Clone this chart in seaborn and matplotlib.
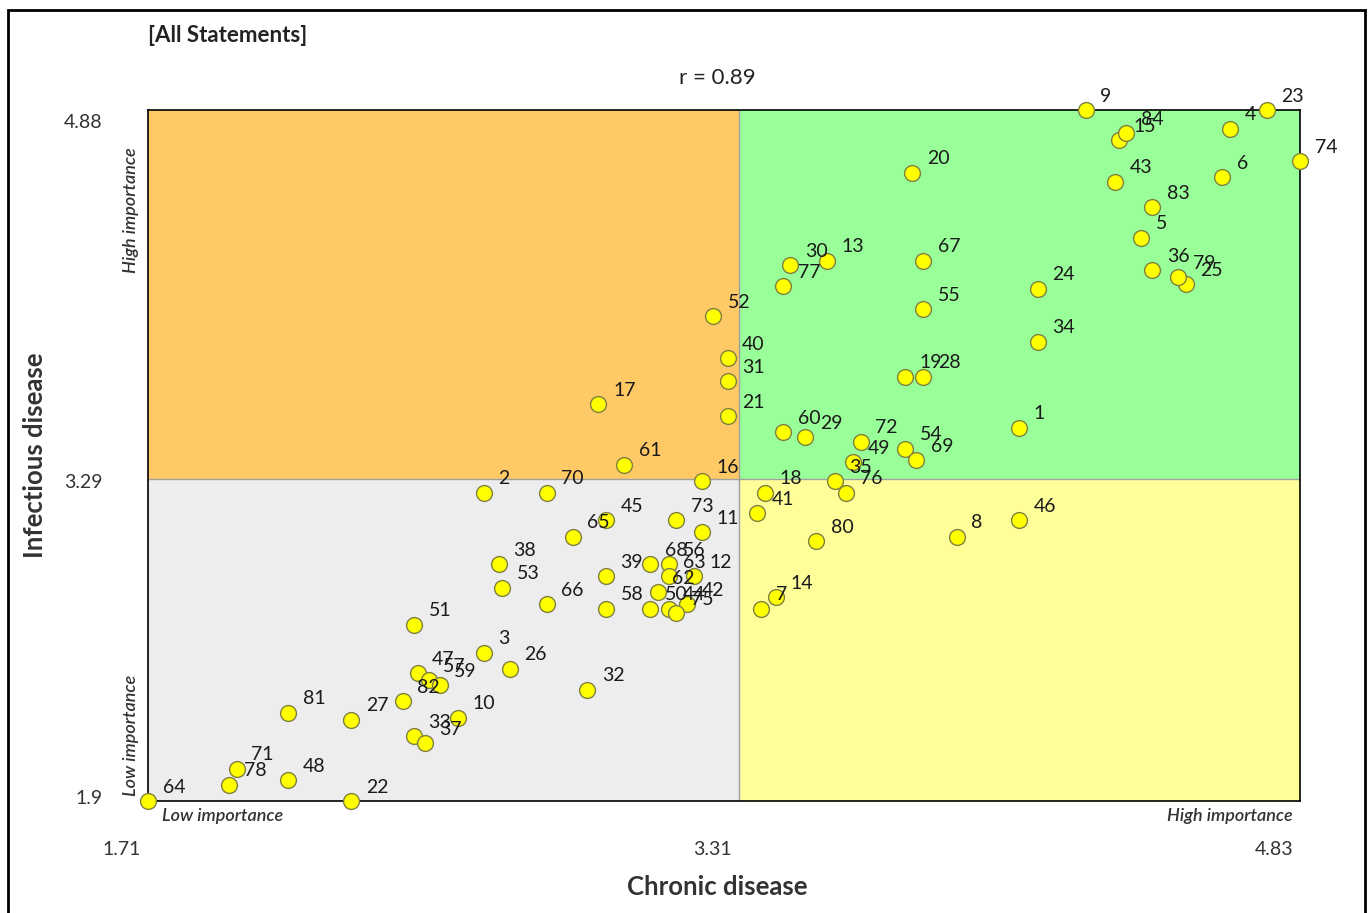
import pandas as pd
import matplotlib
matplotlib.use('Agg')
import matplotlib.pyplot as plt
from matplotlib.patches import Rectangle
import seaborn as sns

# Statement numbers and mean scores
statements = list(range(1, 85))
chronic = [4.07, 2.62, 2.62, 4.64, 4.40, 4.62, 3.37, 3.90, 4.25, 2.55,
           3.21, 3.19, 3.55, 3.41, 4.34, 3.21, 2.93, 3.38, 3.76, 3.78,
           3.28, 2.26, 4.74, 4.12, 4.52, 2.69, 2.26, 3.81, 3.49, 3.45,
           3.28, 2.90, 2.43, 4.12, 3.57, 4.43, 2.46, 2.66, 2.95, 3.28,
           3.36, 3.17, 4.33, 3.12, 2.95, 4.07, 2.44, 2.09, 3.62, 3.07,
           2.43, 3.24, 2.67, 3.76, 3.81, 3.12, 2.47, 2.95, 2.50, 3.43,
           3.00, 3.09, 3.12, 1.71, 2.86, 2.79, 3.81, 3.07, 3.79, 2.79,
           1.95, 3.64, 3.14, 4.83, 3.14, 3.60, 3.43, 1.93, 4.50, 3.52,
           2.09, 2.40, 4.43, 4.36]
infectious = [3.51, 3.23, 2.54, 4.80, 4.33, 4.59, 2.73, 3.04, 4.88, 2.26,
              3.06, 2.87, 4.23, 2.78, 4.75, 3.28, 3.61, 3.23, 3.73, 4.61,
              3.56, 1.90, 4.88, 4.11, 4.13, 2.47, 2.25, 3.73, 3.47, 4.21,
              3.71, 2.38, 2.18, 3.88, 3.28, 4.19, 2.15, 2.92, 2.87, 3.81,
              3.14, 2.75, 4.57, 2.73, 3.11, 3.11, 2.45, 1.99, 3.36, 2.73,
              2.66, 3.99, 2.82, 3.42, 4.02, 2.92, 2.42, 2.73, 2.40, 3.49,
              3.35, 2.80, 2.87, 1.90, 3.04, 2.75, 4.23, 2.92, 3.37, 3.23,
              2.04, 3.45, 3.11, 4.66, 2.71, 3.23, 4.12, 1.97, 4.16, 3.02,
              2.28, 2.33, 4.46, 4.78]

x_min, x_mid, x_max = 1.71, 3.31, 4.83
y_min, y_mid, y_max = 1.9, 3.29, 4.88

df = pd.DataFrame({'statement': statements, 'chronic': chronic, 'infectious': infectious})

sns.set_style('white')
plt.rcParams['font.family'] = ['Lato', 'DejaVu Sans']

fig = plt.figure(figsize=(13.68, 9.13), dpi=100)
ax = fig.add_axes([148 / 1368, 112 / 913, 1152 / 1368, 691 / 913])

# quadrant backgrounds
quadrants = [
    (x_min, y_mid, x_mid - x_min, y_max - y_mid, '#FFC966'),
    (x_mid, y_mid, x_max - x_mid, y_max - y_mid, '#99FF99'),
    (x_min, y_min, x_mid - x_min, y_mid - y_min, '#EDEDED'),
    (x_mid, y_min, x_max - x_mid, y_mid - y_min, '#FFFF99'),
]
for x0, y0, w, h, c in quadrants:
    ax.add_patch(Rectangle((x0, y0), w, h, facecolor=c, edgecolor='none', zorder=0))
ax.axvline(x_mid, color='#A0A0A0', lw=1, zorder=1)
ax.axhline(y_mid, color='#A0A0A0', lw=1, zorder=1)

sns.scatterplot(data=df, x='chronic', y='infectious', ax=ax, s=130,
                color='#FFFF00', edgecolor='#7F8040', linewidth=1,
                zorder=3, clip_on=False)

for num, xv, yv in zip(statements, chronic, infectious):
    ax.annotate(str(num), (xv, yv), xytext=(10.5, 10), textcoords='offset points',
                ha='left', va='center', fontsize=14, color='#1a1a1a',
                zorder=4, annotation_clip=False)

ax.set_xlim(x_min, x_max)
ax.set_ylim(y_min, y_max)
ax.set_xticks([])
ax.set_yticks([])
ax.set_xlabel('')
ax.set_ylabel('')
for sp in ax.spines.values():
    sp.set_visible(True)
    sp.set_color('black')
    sp.set_linewidth(1.2)

# tick values as text
for v in [x_min, x_mid, x_max]:
    ax.annotate(f'{v:g}', (v, y_min), xytext=(-5, -35), textcoords='offset points',
                ha='right', va='center', fontsize=14, color='#333333',
                annotation_clip=False)
for v, dy in [(y_min, 2), (y_mid, -3), (y_max, -9)]:
    ax.annotate(f'{v:g}', (x_min, v), xytext=(-33, dy), textcoords='offset points',
                ha='right', va='center', fontsize=14, color='#333333',
                annotation_clip=False)

# importance hints
hint = dict(fontsize=13, style='italic', fontweight='semibold', color='#333333')
ax.text(0.012, -0.022, 'Low importance', transform=ax.transAxes, ha='left', va='center', **hint)
ax.text(0.994, -0.022, 'High importance', transform=ax.transAxes, ha='right', va='center', **hint)
ax.text(-0.015, 0.855, 'High importance', transform=ax.transAxes, ha='center', va='center',
        rotation=90, **hint)
ax.text(-0.015, 0.095, 'Low importance', transform=ax.transAxes, ha='center', va='center',
        rotation=90, **hint)

fig.text(717 / 1368, 1 - 887 / 913, 'Chronic disease', ha='center', va='center',
         fontsize=18.5, fontweight='bold', color='#333333')
fig.text(35 / 1368, 1 - 455 / 913, 'Infectious disease', ha='center', va='center',
         rotation=90, fontsize=18.5, fontweight='bold', color='#333333')
fig.text(148 / 1368, 1 - 35 / 913, '[All Statements]', ha='left', va='center',
         fontsize=16, fontweight='bold', color='#222222')
fig.text(717 / 1368, 1 - 78 / 913, 'r = 0.89', ha='center', va='center',
         fontsize=16, color='#222222')

# outer frame
fig.add_artist(Rectangle((8 / 1368, -0.05), 1357 / 1368, 1.05 - 10 / 913,
                         transform=fig.transFigure, fill=False,
                         edgecolor='black', lw=2))

fig.savefig('out.png', dpi=100)
